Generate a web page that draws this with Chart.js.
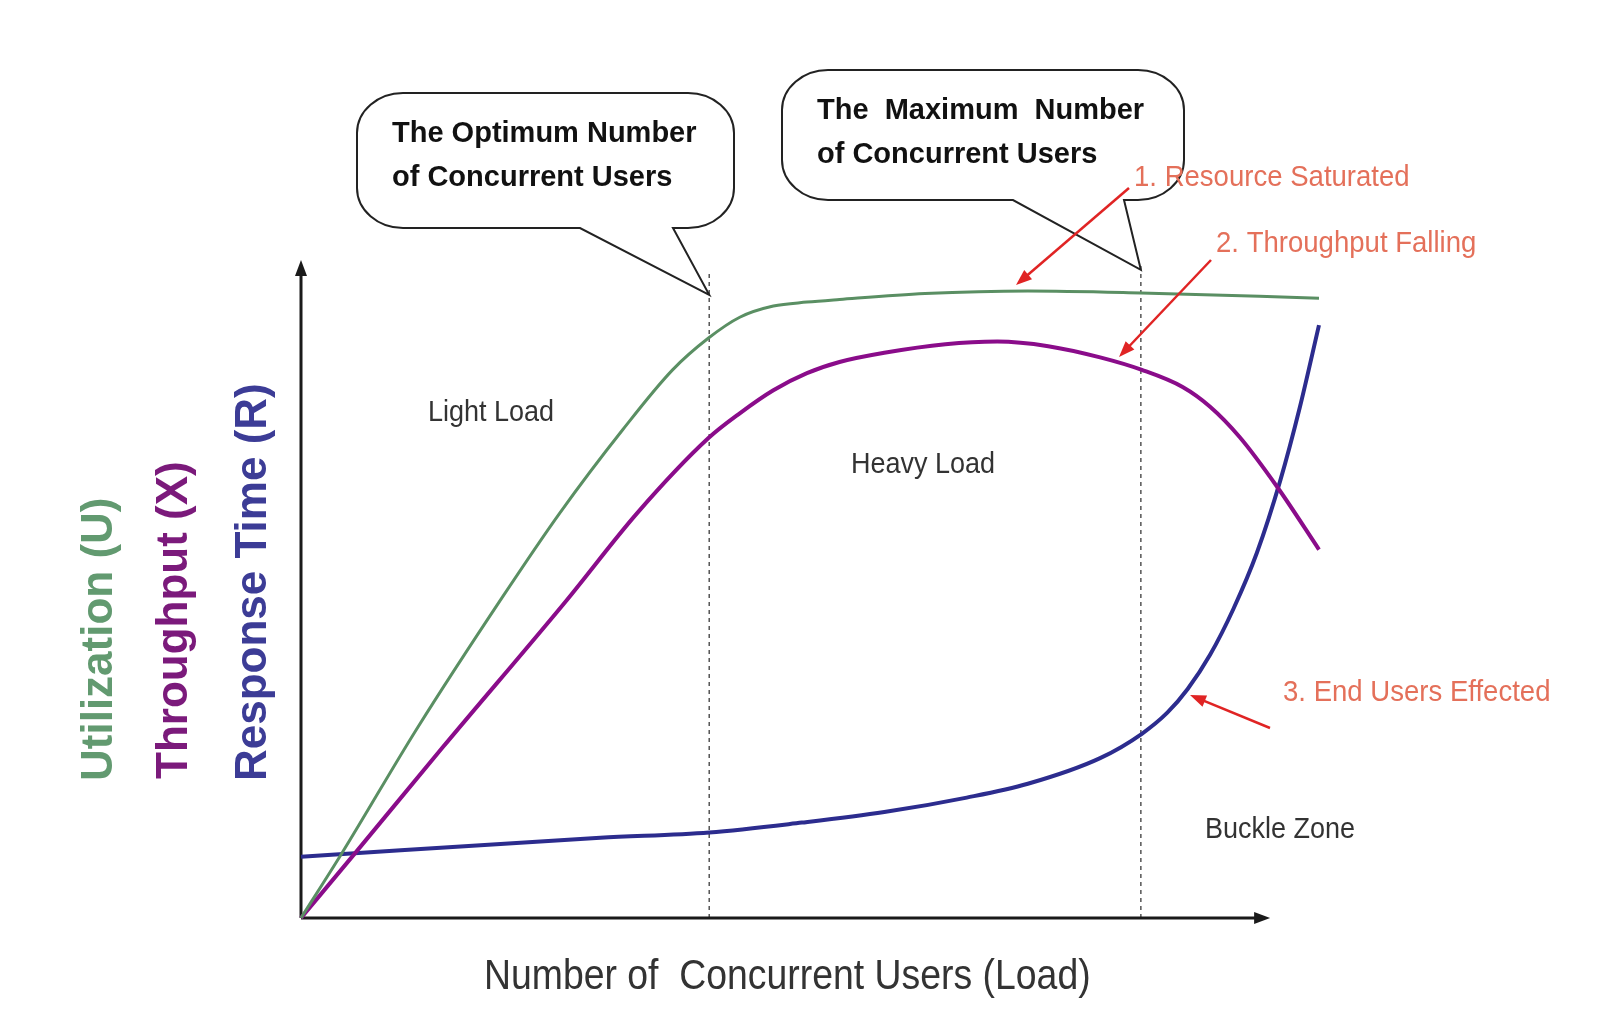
<!DOCTYPE html>
<html>
<head>
  <title>Load vs Utilization, Throughput and Response Time</title>
  <script src="https://cdn.jsdelivr.net/npm/chart.js"></script>
  <style>
    body { margin: 0; background: #fff; }
  </style>
</head>
<body>
  <canvas id="myChart" width="1612" height="1034"></canvas>
  <script>
    // load runs 0..100 along x, every curve is read on a 0..100 vertical scale
    const utilLoad = [0, 4.0, 11.4, 19.8, 25.4, 31.6, 36.5, 40.0, 43.1, 46.4, 49.7, 52.9, 61.3, 71.4, 82.5, 100];
    const utilValues = [0, 9.8, 28.8, 48.8, 61.5, 74.2, 83.3, 88.1, 91.3, 93.0, 93.6, 94.0, 94.9, 95.3, 95.0, 94.2];

    const thrLoad = [0, 5.5, 13.9, 26.1, 33.0, 40.0, 43.1, 46.4, 49.7, 52.9, 57.3, 63.3, 68.4, 73.4, 78.5, 82.6, 86.6, 89.3, 92.2, 95.9, 100];
    const thrValues = [0, 10.2, 25.9, 48.3, 61.5, 72.9, 76.7, 80.2, 82.8, 84.5, 85.9, 87.2, 87.6, 86.9, 85.2, 83.3, 80.7, 77.7, 73.1, 65.5, 56.0];

    const respLoad = [0, 29.4, 40.1, 49.2, 57.3, 65.4, 71.4, 78.5, 82.6, 85.1, 87.1, 89.3, 91.6, 93.9, 96.2, 98.1, 100];
    const respValues = [9.3, 12.2, 13.0, 14.5, 16.1, 18.3, 20.4, 24.3, 28.0, 31.2, 34.8, 40.0, 47.0, 55.5, 66.5, 77.5, 90.1];

    const optimumLoad = 40.1;
    const maximumLoad = 82.5;
    const axisEndLoad = 95.2;

    const toPoints = (xs, ys) => xs.map((x, i) => ({ x: x, y: ys[i] }));

    function arrowHead(ctx, fromX, fromY, toX, toY, len, half) {
      const a = Math.atan2(toY - fromY, toX - fromX);
      ctx.beginPath();
      ctx.moveTo(toX, toY);
      ctx.lineTo(toX - len * Math.cos(a) + half * Math.sin(a), toY - len * Math.sin(a) - half * Math.cos(a));
      ctx.lineTo(toX - len * Math.cos(a) - half * Math.sin(a), toY - len * Math.sin(a) + half * Math.cos(a));
      ctx.closePath();
      ctx.fill();
    }

    function arrow(ctx, x1, y1, x2, y2, color) {
      ctx.save();
      ctx.strokeStyle = color;
      ctx.fillStyle = color;
      ctx.lineWidth = 2.5;
      const a = Math.atan2(y2 - y1, x2 - x1);
      ctx.beginPath();
      ctx.moveTo(x1, y1);
      ctx.lineTo(x2 - 10 * Math.cos(a), y2 - 10 * Math.sin(a));
      ctx.stroke();
      arrowHead(ctx, x1, y1, x2, y2, 16, 6);
      ctx.restore();
    }

    function label(ctx, text, x, y, font, color, squeeze) {
      ctx.save();
      ctx.translate(x, y);
      ctx.scale(squeeze || 1, 1);
      ctx.font = font;
      ctx.fillStyle = color;
      ctx.textBaseline = 'alphabetic';
      ctx.fillText(text, 0, 0);
      ctx.restore();
    }

    function vlabel(ctx, text, x, y, font, color) {
      ctx.save();
      ctx.translate(x, y);
      ctx.rotate(-Math.PI / 2);
      ctx.font = font;
      ctx.fillStyle = color;
      ctx.textBaseline = 'middle';
      ctx.textAlign = 'left';
      ctx.fillText(text, 0, 0);
      ctx.restore();
    }

    // speech bubble: rounded box plus a pointed tail ending at (tipX, tipY)
    function callout(ctx, left, top, right, bottom, baseL, baseR, tipX, tipY, rx, ry) {
      const k = 0.55;
      ctx.save();
      ctx.beginPath();
      ctx.moveTo(left + rx, top);
      ctx.lineTo(right - rx, top);
      ctx.bezierCurveTo(right - rx + rx * k, top, right, top + ry - ry * k, right, top + ry);
      ctx.lineTo(right, bottom - ry);
      ctx.bezierCurveTo(right, bottom - ry + ry * k, right - rx + rx * k, bottom, right - rx, bottom);
      ctx.lineTo(baseR, bottom);
      ctx.lineTo(tipX, tipY);
      ctx.lineTo(baseL, bottom);
      ctx.lineTo(left + rx, bottom);
      ctx.bezierCurveTo(left + rx - rx * k, bottom, left, bottom - ry + ry * k, left, bottom - ry);
      ctx.lineTo(left, top + ry);
      ctx.bezierCurveTo(left, top + ry - ry * k, left + rx - rx * k, top, left + rx, top);
      ctx.closePath();
      ctx.fillStyle = '#fff';
      ctx.fill();
      ctx.strokeStyle = '#222';
      ctx.lineWidth = 2;
      ctx.stroke();
      ctx.restore();
    }

    const diagramPlugin = {
      id: 'diagram',
      beforeDatasetsDraw(chart) {
        const ctx = chart.ctx;
        const xs = chart.scales.x, ys = chart.scales.y;
        const x0 = xs.getPixelForValue(0), y0 = ys.getPixelForValue(0);

        // dotted markers for optimum and maximum load
        ctx.save();
        ctx.strokeStyle = '#555';
        ctx.lineWidth = 1.5;
        ctx.setLineDash([4, 4]);
        [[optimumLoad, 98], [maximumLoad, 99.5]].forEach(([v, top]) => {
          const px = xs.getPixelForValue(v);
          ctx.beginPath();
          ctx.moveTo(px, y0);
          ctx.lineTo(px, ys.getPixelForValue(top));
          ctx.stroke();
        });
        ctx.restore();

        // axes with arrow heads
        ctx.save();
        ctx.strokeStyle = '#1a1a1a';
        ctx.fillStyle = '#1a1a1a';
        ctx.lineWidth = 3;
        const yTop = ys.getPixelForValue(100);
        const xEnd = xs.getPixelForValue(axisEndLoad);
        ctx.beginPath();
        ctx.moveTo(x0, y0);
        ctx.lineTo(x0, yTop + 10);
        ctx.moveTo(x0, y0);
        ctx.lineTo(xEnd - 10, y0);
        ctx.stroke();
        arrowHead(ctx, x0, y0, x0, yTop, 16, 6);
        arrowHead(ctx, x0, y0, xEnd, y0, 16, 6);
        ctx.restore();
      },
      afterDatasetsDraw(chart) {
        const ctx = chart.ctx;
        const xs = chart.scales.x, ys = chart.scales.y;
        const tip1X = xs.getPixelForValue(optimumLoad), tip1Y = ys.getPixelForValue(94.7);
        const tip2X = xs.getPixelForValue(maximumLoad), tip2Y = ys.getPixelForValue(98.5);

        callout(ctx, 357, 93, 734, 228, 580, 673, tip1X, tip1Y, 46, 40);
        callout(ctx, 782, 70, 1184, 200, 1013, 1124, tip2X, tip2Y, 46, 40);

        const boxFont = 'bold 29px "Liberation Sans", Arial, sans-serif';
        label(ctx, 'The Optimum Number', 392, 142, boxFont, '#111');
        label(ctx, 'of Concurrent Users', 392, 186, boxFont, '#111');
        label(ctx, 'The  Maximum  Number', 817, 119, boxFont, '#111');
        label(ctx, 'of Concurrent Users', 817, 163, boxFont, '#111');

        const redFont = '29px "Liberation Sans", Arial, sans-serif';
        const red = '#e4705a';
        label(ctx, '1. Resource Saturated', 1134, 186, redFont, red, 0.95);
        label(ctx, '2. Throughput Falling', 1216, 252, redFont, red, 0.95);
        label(ctx, '3. End Users Effected', 1283, 701, redFont, red, 0.95);
        arrow(ctx, 1129, 188, 1016, 285, '#e02424');
        arrow(ctx, 1211, 260, 1119, 357, '#e02424');
        arrow(ctx, 1270, 728, 1190, 695, '#e02424');

        const zoneFont = '30px "Liberation Sans", Arial, sans-serif';
        label(ctx, 'Light Load', 428, 421, zoneFont, '#333', 0.9);
        label(ctx, 'Heavy Load', 851, 473, zoneFont, '#333', 0.9);
        label(ctx, 'Buckle Zone', 1205, 838, zoneFont, '#333', 0.9);

        label(ctx, 'Number of  Concurrent Users (Load)', 484, 989, '42px "Liberation Sans", Arial, sans-serif', '#333', 0.89);

        const titleFont = 'bold 44px "Liberation Sans", Arial, sans-serif';
        vlabel(ctx, 'Utilization (U)', 100, 781, titleFont, '#629a70');
        vlabel(ctx, 'Throughput (X)', 175, 779, titleFont, '#7b1a7b');
        vlabel(ctx, 'Response Time (R)', 254, 781, titleFont, '#3c3c96');
      }
    };

    const chartConfig = {
      type: 'line',
      data: {
        datasets: [
          {
            label: 'Utilization (U)',
            data: toPoints(utilLoad, utilValues),
            borderColor: '#5a8f63',
            borderWidth: 3,
          },
          {
            label: 'Throughput (X)',
            data: toPoints(thrLoad, thrValues),
            borderColor: '#8a0c8a',
            borderWidth: 4,
          },
          {
            label: 'Response Time (R)',
            data: toPoints(respLoad, respValues),
            borderColor: '#2c2c8e',
            borderWidth: 4,
          },
        ],
      },
      options: {
        responsive: false,
        animation: false,
        devicePixelRatio: 1,
        layout: { padding: { left: 301, right: 293, top: 260, bottom: 116 } },
        elements: {
          point: { radius: 0 },
          line: { cubicInterpolationMode: 'monotone', fill: false },
        },
        datasets: { line: { clip: false } },
        plugins: { legend: { display: false }, tooltip: { enabled: false } },
        scales: {
          x: { type: 'linear', min: 0, max: 100, display: false },
          y: { min: 0, max: 100, display: false },
        },
      },
      plugins: [diagramPlugin],
    };
    const myChart = new Chart(document.getElementById('myChart'), chartConfig);
  </script>
</body>
</html>
